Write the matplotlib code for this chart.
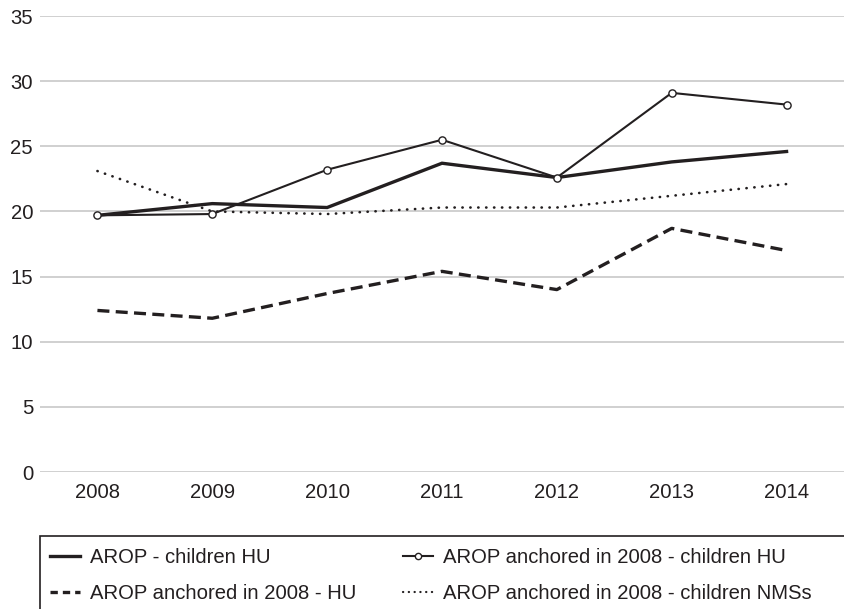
"""Poverty rate lines for children in Hungary, 2008-2014."""

import matplotlib.pyplot as plt
from matplotlib.lines import Line2D
from matplotlib.patches import Rectangle

plt.rcParams["font.family"] = ["Liberation Sans", "DejaVu Sans"]

years = ["2008", "2009", "2010", "2011", "2012", "2013", "2014"]
arop_children_hu = [19.7, 20.6, 20.3, 23.7, 22.6, 23.8, 24.6]
anchored_children_hu = [19.7, 19.8, 23.2, 25.5, 22.6, 29.1, 28.2]
anchored_hu = [12.4, 11.8, 13.7, 15.4, 14.0, 18.7, 17.0]
anchored_children_nms = [23.1, 20.0, 19.8, 20.3, 20.3, 21.2, 22.1]
y_ticks = [0, 5, 10, 15, 20, 25, 30, 35]

ink = "#231f20"
size = 14.6

figure = plt.figure(figsize=(8.44, 6.09), dpi=100)
axis = figure.add_axes([40 / 844, 1 - 472 / 609, 804 / 844, 456 / 609])

x = range(len(years))
axis.plot(x, arop_children_hu, color=ink, linewidth=2.4, solid_joinstyle="miter")
axis.plot(x, anchored_children_hu, color=ink, linewidth=1.5, marker="o",
          markersize=5.2, markerfacecolor="white", markeredgewidth=1.0)
axis.plot(x, anchored_hu, color=ink, linewidth=2.4, dashes=(3.6, 1.9))
axis.plot(x, anchored_children_nms, color=ink, linewidth=1.9, linestyle=(0, (0.1, 2.9)),
          dash_capstyle="round")

axis.set_xlim(-0.5, len(years) - 0.5)
axis.set_ylim(0, 35)
axis.set_xticks(list(x))
axis.set_xticklabels(years)
axis.set_yticks(y_ticks)
axis.yaxis.grid(True, color="#c8c8c8", linewidth=1.2)
axis.set_axisbelow(True)
for spine in axis.spines.values():
    spine.set_visible(False)
axis.tick_params(axis="both", length=0, labelsize=size, colors=ink)
axis.tick_params(axis="x", pad=8)
axis.tick_params(axis="y", pad=5)

# legend frame runs past the bottom and right edges of the picture
figure.patches.append(Rectangle((40 / 844, -0.1), 1.0, 0.1 + 1 - 536 / 609,
                                transform=figure.transFigure, fill=False,
                                edgecolor=ink, linewidth=1.2))
handles = [
    Line2D([], [], color=ink, linewidth=2.4),
    Line2D([], [], color=ink, linewidth=2.4, dashes=(2.2, 1.5)),
    Line2D([], [], color=ink, linewidth=1.5, marker="o", markersize=4.5,
           markerfacecolor="white", markeredgewidth=1.0),
    Line2D([], [], color=ink, linewidth=1.6, linestyle=(0, (0.1, 2.5)), dash_capstyle="round"),
]
labels = [
    "AROP - children HU",
    "AROP anchored in 2008 - HU",
    "AROP anchored in 2008 - children HU",
    "AROP anchored in 2008 - children NMSs",
]
figure.legend(handles, labels, ncol=2, loc="upper left",
              bbox_to_anchor=(50 / 844, 1 - 548 / 609), frameon=False,
              fontsize=size, handlelength=1.48, handletextpad=0.5,
              columnspacing=2.3, labelspacing=0.82, labelcolor=ink,
              borderaxespad=0, borderpad=0)

figure.savefig("out.png", dpi=100)
